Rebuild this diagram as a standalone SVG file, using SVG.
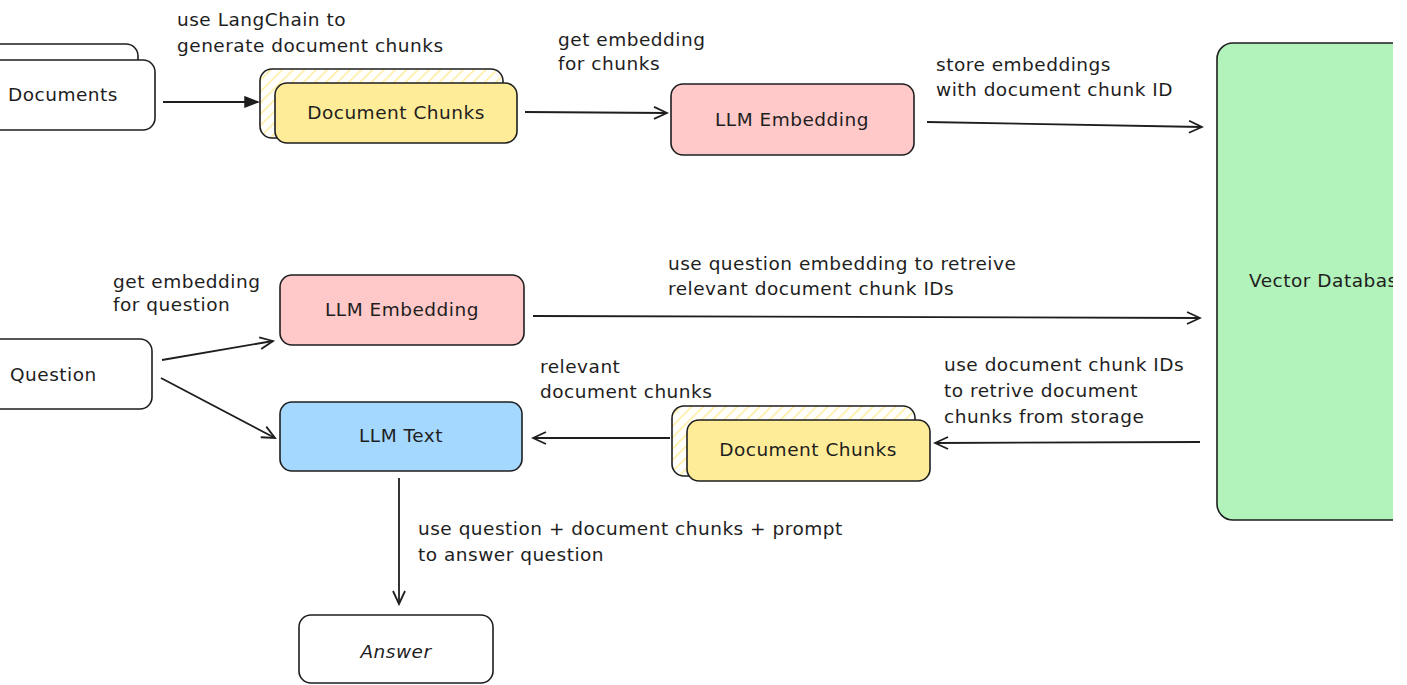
<svg xmlns="http://www.w3.org/2000/svg" width="1407" height="685" viewBox="0 0 1407 685">
<defs>
<style>
.t{font-family:"DejaVu Sans","Liberation Sans",sans-serif;font-size:18.5px;letter-spacing:0.5px;fill:#1e1e1e}
.c{text-anchor:middle}
.box{stroke:#1e1e1e;stroke-width:1.6}
.ln{stroke:#1e1e1e;stroke-width:1.8;fill:none}
</style>
<pattern id="hatch" patternUnits="userSpaceOnUse" width="8" height="8" patternTransform="rotate(45)">
<rect width="8" height="8" fill="#ffffff"/>
<line x1="0" y1="0" x2="0" y2="8" stroke="#ffec99" stroke-width="3"/>
</pattern>
<marker id="open" markerWidth="16" markerHeight="14" refX="14" refY="7" orient="auto" markerUnits="userSpaceOnUse">
<path d="M1,1 L14,7 L1,13" fill="none" stroke="#1e1e1e" stroke-width="1.8"/>
</marker>
<marker id="solid" markerWidth="16" markerHeight="14" refX="14" refY="7" orient="auto" markerUnits="userSpaceOnUse">
<path d="M1,2 L14,7 L1,12 Z" fill="#1e1e1e" stroke="#1e1e1e" stroke-width="1.5"/>
</marker>
<clipPath id="clipR"><rect x="0" y="0" width="1393" height="685"/></clipPath>
</defs>
<rect width="1407" height="685" fill="#ffffff"/>

<g id="documents">
<rect x="-40" y="44" width="178" height="70" rx="12" fill="#ffffff" class="box"/>
<rect x="-40" y="60" width="195" height="70" rx="12" fill="#ffffff" class="box"/>
<text x="8" y="101" class="t">Documents</text>
</g>

<g id="chunks1">
<rect x="260" y="69" width="243" height="69" rx="12" fill="url(#hatch)" class="box"/>
<rect x="275" y="83" width="242" height="60" rx="12" fill="#ffec99" class="box"/>
<text x="396" y="119" class="t c">Document Chunks</text>
</g>

<g id="llm-embedding-1">
<rect x="671" y="84" width="243" height="71" rx="12" fill="#ffc9c9" class="box"/>
<text x="792" y="126" class="t c">LLM Embedding</text>
</g>

<g id="vector-db" clip-path="url(#clipR)">
<rect x="1217" y="43" width="260" height="477" rx="16" fill="#b2f2bb" class="box"/>
<text x="1249" y="287" class="t">Vector Database</text>
</g>

<g id="question">
<rect x="-40" y="339" width="192" height="70" rx="12" fill="#ffffff" class="box"/>
<text x="10" y="381" class="t">Question</text>
</g>

<g id="llm-embedding-2">
<rect x="280" y="275" width="244" height="70" rx="12" fill="#ffc9c9" class="box"/>
<text x="402" y="316" class="t c">LLM Embedding</text>
</g>

<g id="llm-text">
<rect x="280" y="402" width="242" height="69" rx="12" fill="#a5d8ff" class="box"/>
<text x="401" y="442" class="t c">LLM Text</text>
</g>

<g id="chunks2">
<rect x="672" y="406" width="243" height="70" rx="12" fill="url(#hatch)" class="box"/>
<rect x="687" y="420" width="243" height="61" rx="12" fill="#ffec99" class="box"/>
<text x="808" y="456" class="t c">Document Chunks</text>
</g>

<g id="answer">
<rect x="299" y="615" width="194" height="68" rx="12" fill="#ffffff" class="box"/>
<text x="396" y="658" class="t c" font-style="italic">Answer</text>
</g>

<g id="connectors">
<line x1="163" y1="102" x2="258" y2="102" class="ln" marker-end="url(#solid)"/>
<line x1="525" y1="112" x2="667" y2="113" class="ln" marker-end="url(#open)"/>
<line x1="927" y1="122" x2="1202" y2="127" class="ln" marker-end="url(#open)"/>
<line x1="162" y1="360" x2="273" y2="341" class="ln" marker-end="url(#open)"/>
<line x1="161" y1="378" x2="275" y2="438" class="ln" marker-end="url(#open)"/>
<line x1="533" y1="316" x2="1200" y2="318" class="ln" marker-end="url(#open)"/>
<line x1="1200" y1="442" x2="935" y2="443" class="ln" marker-end="url(#open)"/>
<line x1="670" y1="438" x2="533" y2="438" class="ln" marker-end="url(#open)"/>
<line x1="399" y1="478" x2="399" y2="604" class="ln" marker-end="url(#open)"/>
</g>

<g id="labels">
<text x="177" y="26" class="t">use LangChain to</text>
<text x="177" y="52" class="t">generate document chunks</text>
<text x="558" y="46" class="t">get embedding</text>
<text x="558" y="70" class="t">for chunks</text>
<text x="936" y="71" class="t">store embeddings</text>
<text x="936" y="96" class="t">with document chunk ID</text>
<text x="113" y="288" class="t">get embedding</text>
<text x="113" y="311" class="t">for question</text>
<text x="668" y="270" class="t">use question embedding to retreive</text>
<text x="668" y="295" class="t">relevant document chunk IDs</text>
<text x="944" y="371" class="t">use document chunk IDs</text>
<text x="944" y="397" class="t">to retrive document</text>
<text x="944" y="423" class="t">chunks from storage</text>
<text x="540" y="373" class="t">relevant</text>
<text x="540" y="398" class="t">document chunks</text>
<text x="418" y="535" class="t">use question + document chunks + prompt</text>
<text x="418" y="561" class="t">to answer question</text>
</g>
</svg>
